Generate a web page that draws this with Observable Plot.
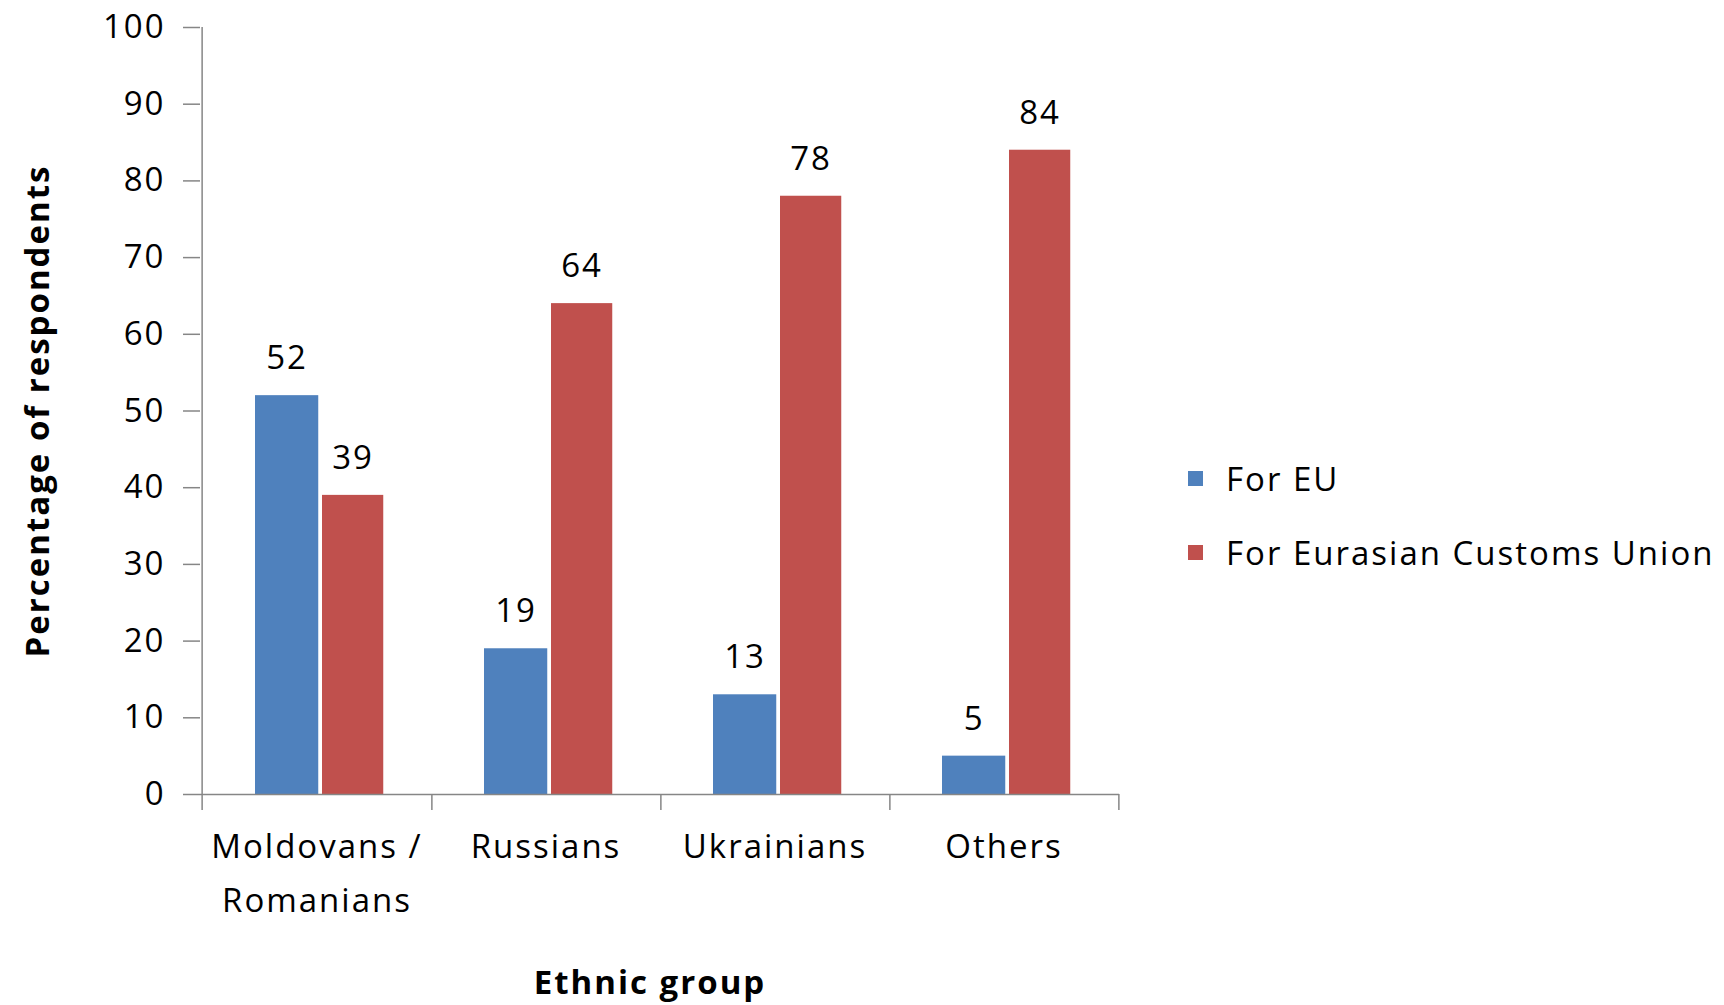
<!DOCTYPE html>
<html>
<head>
<meta charset="utf-8">
<script src="https://cdn.jsdelivr.net/npm/d3@7"></script>
<script src="https://cdn.jsdelivr.net/npm/@observablehq/plot@0.6"></script>
<style>
  html, body { margin: 0; padding: 0; background: #fff; }
  #wrap { position: relative; width: 1724px; height: 1005px; font-family: "Open Sans", sans-serif; }
  #wrap svg text { letter-spacing: 2px; }
  .legend { position: absolute; left: 1188px; font-size: 33px; letter-spacing: 2px; color: #000; display: flex; align-items: center; white-space: nowrap; }
  .legend .sw { width: 15px; height: 15px; margin-right: 23px; }
</style>
</head>
<body>
<div id="wrap"></div>
<script>
// ---- data ----
const categories = ["Moldovans / Romanians", "Russians", "Ukrainians", "Others"];
const series = ["For EU", "For Eurasian Customs Union"];
const euValues = [52, 19, 13, 5];
const ecuValues = [39, 64, 78, 84];
const yTicks = [0, 10, 20, 30, 40, 50, 60, 70, 80, 90, 100];
const seriesColors = ["#4F81BD", "#C0504D"];
const yTitle = "Percentage of respondents";
const xTitle = "Ethnic group";

const data = categories.flatMap((c, i) => [
  {group: c, series: series[0], value: euValues[i]},
  {group: c, series: series[1], value: ecuValues[i]}
]);

// ---- layout ----
const W = 1724, H = 1005;
const mL = 200, mR = 605, mT = 27, mB = 211;
const bw = (W - mL - mR) / categories.length;
const frameH = H - mT - mB;
const gray = "#868686";

const chart = Plot.plot({
  width: W, height: H,
  marginLeft: mL, marginRight: mR, marginTop: mT, marginBottom: mB,
  style: {fontFamily: "'Open Sans', sans-serif", fontSize: "33px", color: "#000", background: "#fff", overflow: "visible"},
  x: {domain: categories, padding: 0, axis: null},
  y: {domain: [0, 100], axis: null},
  color: {domain: series, range: seriesColors},
  marks: [
    Plot.barY(data.filter(d => d.series === series[0]), {x: "group", y: "value", fill: "series", insetLeft: 53, insetRight: bw - 117}),
    Plot.barY(data.filter(d => d.series === series[1]), {x: "group", y: "value", fill: "series", insetLeft: 120, insetRight: bw - 182}),
    Plot.text(data.filter(d => d.series === series[0]), {x: "group", y: "value", text: d => String(d.value), dx: 85 - bw / 2, dy: -37, fill: "#000"}),
    Plot.text(data.filter(d => d.series === series[1]), {x: "group", y: "value", text: d => String(d.value), dx: 151 - bw / 2, dy: -37, fill: "#000"}),
    Plot.ruleY([0], {stroke: gray, strokeWidth: 1.5}),
    Plot.ruleX([categories[0]], {dx: -bw / 2, stroke: gray, strokeWidth: 1.5, insetBottom: -16}),
    Plot.ruleX(categories, {dx: bw / 2, stroke: gray, strokeWidth: 1.5, insetTop: frameH, insetBottom: -16}),
    Plot.axisY({ticks: yTicks, tickSize: 17, tickPadding: 18, stroke: gray, strokeWidth: 1.5, fontSize: 33, label: null}),
    Plot.axisX({tickSize: 0, tickPadding: 26, lineHeight: 1.62, fontSize: 33, label: null,
      tickFormat: d => d.replace(" / ", " /\n")}),
    Plot.text([yTitle], {frameAnchor: "left", textAnchor: "middle", dx: -162, rotate: -90, fontWeight: "bold", fontSize: 33, fill: "#000"}),
    Plot.text([xTitle], {frameAnchor: "bottom", textAnchor: "middle", dx: -10, dy: 199, fontWeight: "bold", fontSize: 33, fill: "#000"})
  ]
});

const wrap = document.getElementById("wrap");
wrap.appendChild(chart);

// legend
const legendTops = [478, 552];
series.forEach((s, i) => {
  const row = document.createElement("div");
  row.className = "legend";
  row.style.top = (legendTops[i] - 24) + "px";
  row.style.height = "48px";
  const sw = document.createElement("span");
  sw.className = "sw";
  sw.style.background = seriesColors[i];
  const lab = document.createElement("span");
  lab.textContent = s;
  row.appendChild(sw);
  row.appendChild(lab);
  wrap.appendChild(row);
});
</script>
</body>
</html>
